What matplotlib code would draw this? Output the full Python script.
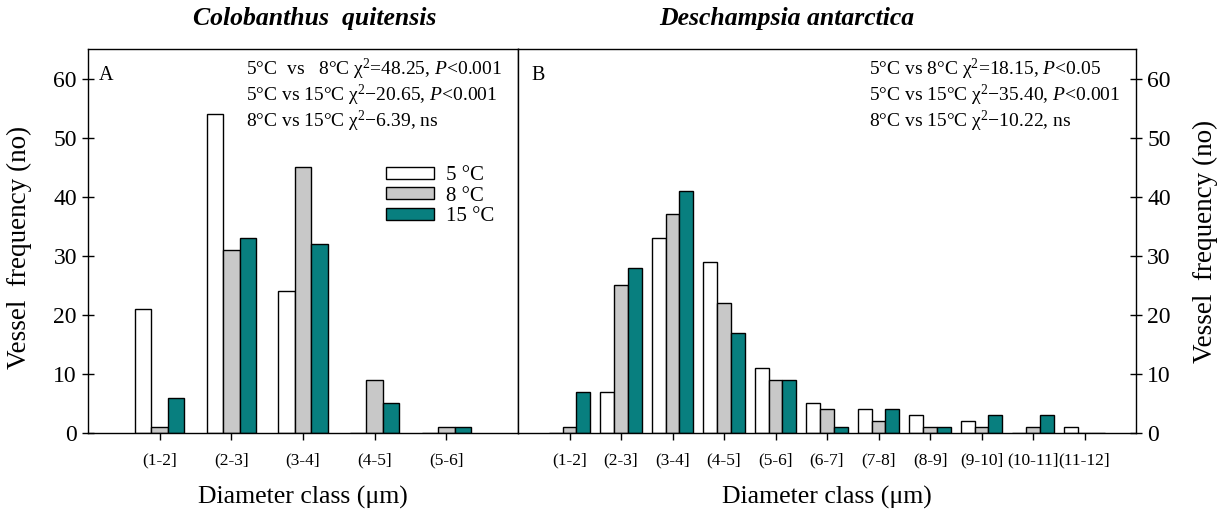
import matplotlib
matplotlib.use("Agg")
import matplotlib.pyplot as plt
from matplotlib.patches import Patch
import numpy as np

plt.rcParams['font.family'] = ['Liberation Serif', 'DejaVu Serif']
plt.rcParams['mathtext.fontset'] = 'custom'
plt.rcParams['mathtext.rm'] = 'Liberation Serif'
plt.rcParams['mathtext.it'] = 'Liberation Serif:italic'

# Colobanthus quitensis
classes_a = ["(1-2]", "(2-3]", "(3-4]", "(4-5]", "(5-6]"]
a_5c = [21, 54, 24, 0, 0]
a_8c = [1, 31, 45, 9, 1]
a_15c = [6, 33, 32, 5, 1]

# Deschampsia antarctica
classes_b = ["(1-2]", "(2-3]", "(3-4]", "(4-5]", "(5-6]", "(6-7]", "(7-8]",
             "(8-9]", "(9-10]", "(10-11]", "(11-12]"]
b_5c = [0, 7, 33, 29, 11, 5, 4, 3, 2, 0, 1]
b_8c = [1, 25, 37, 22, 9, 4, 2, 1, 1, 1, 0]
b_15c = [7, 28, 41, 17, 9, 1, 4, 1, 3, 3, 0]

series_labels = ["5 \u00b0C", "8 \u00b0C", "15 \u00b0C"]
colors = ["white", "#c8c8c8", "#087f7f"]

stats_a = ["5\u00b0C  vs   8\u00b0C \u03c7$^2$=48.25, $P$<0.001",
           "5\u00b0C vs 15\u00b0C \u03c7$^2$\u221220.65, $P$<0.001",
           "8\u00b0C vs 15\u00b0C \u03c7$^2$\u22126.39, ns"]
stats_b = ["5\u00b0C vs 8\u00b0C \u03c7$^2$=18.15, $P$<0.05",
           "5\u00b0C vs 15\u00b0C \u03c7$^2$\u221235.40, $P$<0.001",
           "8\u00b0C vs 15\u00b0C \u03c7$^2$\u221210.22, ns"]

fig = plt.figure(figsize=(12.32, 5.23), dpi=100)
W, H = 1232, 523
ax_a = fig.add_axes([88 / W, 1 - 433 / H, (518 - 88) / W, (433 - 49) / H])
ax_b = fig.add_axes([518 / W, 1 - 433 / H, (1136 - 518) / W, (433 - 49) / H])


# pixel-anchored figure text (origin top-left)
def ptext(x, y, s, **kw):
    fig.text(x / W, 1 - y / H, s, **kw)


def draw(ax, cats, groups, width):
    x = np.arange(1, len(cats) + 1)
    for i, (vals, col) in enumerate(zip(groups, colors)):
        ax.bar(x + (i - 1) * width, vals, width, color=col,
               edgecolor="black", linewidth=1.0, zorder=2)
    ax.set_xlim(0, len(cats) + 1)
    ax.set_ylim(0, 65)
    ax.set_xticks(x)
    ax.set_xticklabels(cats, fontsize=12.5)
    ax.set_yticks(np.arange(0, 61, 10))
    ax.tick_params(axis="x", direction="out", length=5, width=1, pad=9)
    ax.tick_params(axis="y", direction="inout", length=9, width=1,
                   labelsize=17)
    for s in ax.spines.values():
        s.set_linewidth(1.0)
    ax.set_xlabel("Diameter class (\u03bcm)", fontsize=18.5)
    ax.xaxis.set_label_coords(0.5, -(497 - 433) / 384)
    ax.xaxis.label.set_va("center")


draw(ax_a, classes_a, [a_5c, a_8c, a_15c], 0.23)
draw(ax_b, classes_b, [b_5c, b_8c, b_15c], 0.27)

ax_a.set_ylabel("Vessel  frequency (no)", fontsize=19.5, va="center")
ax_a.yaxis.set_label_coords((19.5 - 88) / 430, (433 - 247) / 384)
ax_b.yaxis.tick_right()
ax_b.yaxis.set_label_position("right")
ax_b.set_ylabel("Vessel  frequency (no)", fontsize=19.5, va="center")
ax_b.yaxis.set_label_coords((1205 - 518) / 618, (433 - 241) / 384)
ax_b.tick_params(axis="y", left=False, right=True)

ax_a.text(0.025, 0.955, "A", transform=ax_a.transAxes, fontsize=14.5,
          va="top", ha="left")
ax_b.text(0.022, 0.955, "B", transform=ax_b.transAxes, fontsize=14.5,
          va="top", ha="left")

for k, line in enumerate(stats_a):
    ptext(246, 69 + 26 * k, line, fontsize=14, va="center", ha="left")
for k, line in enumerate(stats_b):
    ptext(869, 69 + 26 * k, line, fontsize=14, va="center", ha="left")

ptext(315, 19, "Colobanthus  quitensis", fontsize=18.5, fontweight="bold",
      fontstyle="italic", ha="center", va="center")
ptext(787, 19, "Deschampsia antarctica", fontsize=18.5, fontweight="bold",
      fontstyle="italic", ha="center", va="center")

handles = [Patch(facecolor=c, edgecolor="black", linewidth=1.0) for c in colors]
ax_a.legend(handles, series_labels, loc="upper left",
            bbox_to_anchor=((386 - 88) / 430, 1 - (166 - 49) / 384),
            frameon=False, fontsize=15, handlelength=2.3, handleheight=0.5,
            handletextpad=0.6, labelspacing=0.08, borderaxespad=0,
            borderpad=0)

fig.savefig("out.png", dpi=100)
